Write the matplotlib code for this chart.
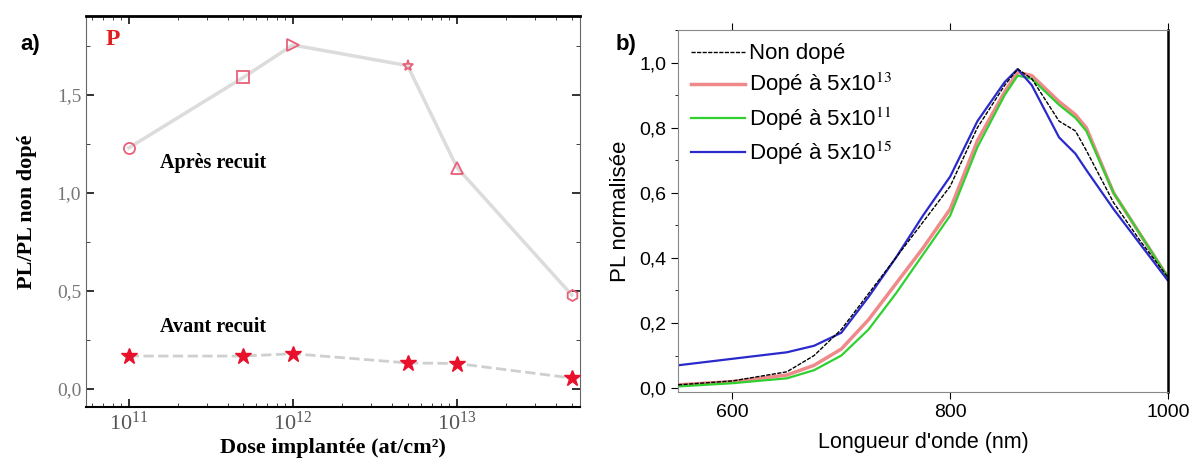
import numpy as np
import matplotlib
matplotlib.use("Agg")
import matplotlib.pyplot as plt
from matplotlib.ticker import LogLocator, MultipleLocator, FuncFormatter

plt.rcParams["mathtext.fontset"] = "stix"

# panel a) PL ratio vs implanted dose
dose = [1e11, 5e11, 1e12, 5e12, 1e13, 5e13]
ratio_after = [1.23, 1.59, 1.755, 1.65, 1.13, 0.48]
ratio_before = [0.168, 0.168, 0.18, 0.133, 0.13, 0.056]
after_markers = ["o", "s", ">", "*", "^", "h"]

# panel b) normalised PL spectra
wavelength = [550, 600, 650, 675, 700, 725, 750, 775, 800, 825, 850, 862, 875, 900, 915, 925, 950, 975, 1000]
pl_undoped = [0.01, 0.022, 0.05, 0.10, 0.18, 0.29, 0.40, 0.51, 0.62, 0.80, 0.93, 0.98, 0.95, 0.82, 0.79, 0.73, 0.57, 0.45, 0.34]
pl_dose1 = [0.01, 0.02, 0.04, 0.07, 0.12, 0.21, 0.32, 0.43, 0.55, 0.76, 0.91, 0.97, 0.96, 0.88, 0.84, 0.80, 0.60, 0.47, 0.34]
pl_dose2 = [0.005, 0.015, 0.03, 0.055, 0.10, 0.18, 0.29, 0.41, 0.53, 0.74, 0.90, 0.96, 0.95, 0.87, 0.83, 0.79, 0.60, 0.47, 0.34]
pl_dose3 = [0.07, 0.09, 0.11, 0.13, 0.17, 0.28, 0.40, 0.53, 0.65, 0.82, 0.94, 0.98, 0.93, 0.77, 0.72, 0.67, 0.55, 0.44, 0.33]
spectra_labels = ["Non dopé", "Dopé à 5x10$^{13}$", "Dopé à 5x10$^{11}$", "Dopé à 5x10$^{15}$"]

fig = plt.figure(figsize=(12, 4.68), dpi=100)

# ---- a)
serif = ["Liberation Serif", "DejaVu Serif"]
ax1 = fig.add_axes([0.0717, 0.1303, 0.4117, 0.8355])
ax1.plot(dose, ratio_after, "-", color="#dcdcdc", lw=2.5, zorder=1)
for d, r, m in zip(dose, ratio_after, after_markers):
    ax1.plot(d, r, m, ms=8, mfc="none", mec="#e8607a", mew=1.3, zorder=3)
ax1.plot(dose, ratio_before, "--", color="#cfcfcf", lw=2, zorder=1)
ax1.plot(dose, ratio_before, "*", ms=12, color="#e8102a", zorder=3)

ax1.set_xscale("log")
ax1.set_xlim(10**10.74, 10**13.75)
ax1.set_ylim(-0.092, 1.903)
ax1.set_yticks([0.0, 0.5, 1.0, 1.5])
ax1.yaxis.set_minor_locator(MultipleLocator(0.25))
ax1.yaxis.set_major_formatter(FuncFormatter(lambda v, p: f"{v:.1f}".replace(".", ",")))
ax1.xaxis.set_major_locator(LogLocator(base=10, numticks=10))
ax1.xaxis.set_minor_locator(LogLocator(base=10, subs=np.arange(2, 10), numticks=10))
ax1.xaxis.set_major_formatter(FuncFormatter(lambda v, p: "$\\mathregular{10^{%d}}$" % round(np.log10(v))))
ax1.tick_params(which="both", direction="in", top=True, right=True, colors="#222222")
ax1.tick_params(axis="x", labelsize=16)
ax1.tick_params(axis="y", labelsize=14)
ax1.tick_params(which="major", length=6, width=1.3)
ax1.tick_params(which="minor", length=3)
for lab in ax1.get_yticklabels():
    lab.set_family(serif)
    lab.set_color("#777777")
for lab in ax1.get_xticklabels():
    lab.set_family(serif)
    lab.set_color("#555555")
ax1.spines["top"].set_linewidth(2)
ax1.spines["bottom"].set_linewidth(1.5)
for s in ["left", "right"]:
    ax1.spines[s].set_color("#666666")
ax1.set_xlabel("Dose implantée (at/cm²)", family=serif, fontweight="bold", fontsize=16, labelpad=2)
ax1.set_ylabel("PL/PL non dopé", family=serif, fontweight="bold", fontsize=16, labelpad=14)
ax1.text(0.055, 0.94, "P", transform=ax1.transAxes, family=serif, fontweight="bold",
         fontsize=17, color="#e02020", ha="center", va="center")
ax1.text(0.257, 0.624, "Après recuit", transform=ax1.transAxes, family=serif,
         fontweight="bold", fontsize=14.5, ha="center", va="center")
ax1.text(0.257, 0.205, "Avant recuit", transform=ax1.transAxes, family=serif,
         fontweight="bold", fontsize=14.5, ha="center", va="center")

# ---- b)
sans = ["Liberation Sans", "DejaVu Sans"]
ax2 = fig.add_axes([0.565, 0.1624, 0.4083, 0.7735])
ax2.plot(wavelength, pl_dose1, color="#f08a8a", lw=2.5, label=spectra_labels[1], zorder=2)
ax2.plot(wavelength, pl_dose2, color="#30d030", lw=1.6, label=spectra_labels[2], zorder=2)
ax2.plot(wavelength, pl_dose3, color="#2a2acc", lw=1.6, label=spectra_labels[3], zorder=2)
ax2.plot(wavelength, pl_undoped, color="black", lw=1.0, ls=(0, (3, 1)), label=spectra_labels[0], zorder=3)

ax2.set_xlim(550, 1000)
ax2.set_ylim(-0.012, 1.1)
ax2.set_xticks([600, 800, 1000])
ax2.set_yticks([0.0, 0.2, 0.4, 0.6, 0.8, 1.0])
ax2.yaxis.set_minor_locator(MultipleLocator(0.1))
ax2.yaxis.set_major_formatter(FuncFormatter(lambda v, p: f"{v:.1f}".replace(".", ",")))
ax2.tick_params(which="both", direction="out", top=True, labelsize=14)
ax2.tick_params(which="major", length=5)
ax2.tick_params(which="minor", length=2)
for lab in ax2.get_xticklabels() + ax2.get_yticklabels():
    lab.set_family(sans)
for s in ["left", "top", "bottom"]:
    ax2.spines[s].set_color("#888888")
ax2.spines["right"].set_linewidth(1.8)
ax2.set_xlabel("Longueur d'onde (nm)", family=sans, fontsize=15.5, labelpad=8)
ax2.set_ylabel("PL normalisée", family=sans, fontsize=16, labelpad=6)

handles, labels = ax2.get_legend_handles_labels()
order = [3, 0, 1, 2]
ax2.legend([handles[i] for i in order], [labels[i] for i in order], loc="upper left",
           frameon=False, prop={"family": sans, "size": 16}, handlelength=2.4,
           handletextpad=0.2, labelspacing=0.3, borderaxespad=0.2,
           bbox_to_anchor=(0.0, 1.0))

fig.text(0.025, 0.905, "a)", family=sans, fontweight="bold", fontsize=16, ha="center", va="center")
fig.text(0.522, 0.905, "b)", family=sans, fontweight="bold", fontsize=16, ha="center", va="center")

plt.savefig("out.png", dpi=100)
